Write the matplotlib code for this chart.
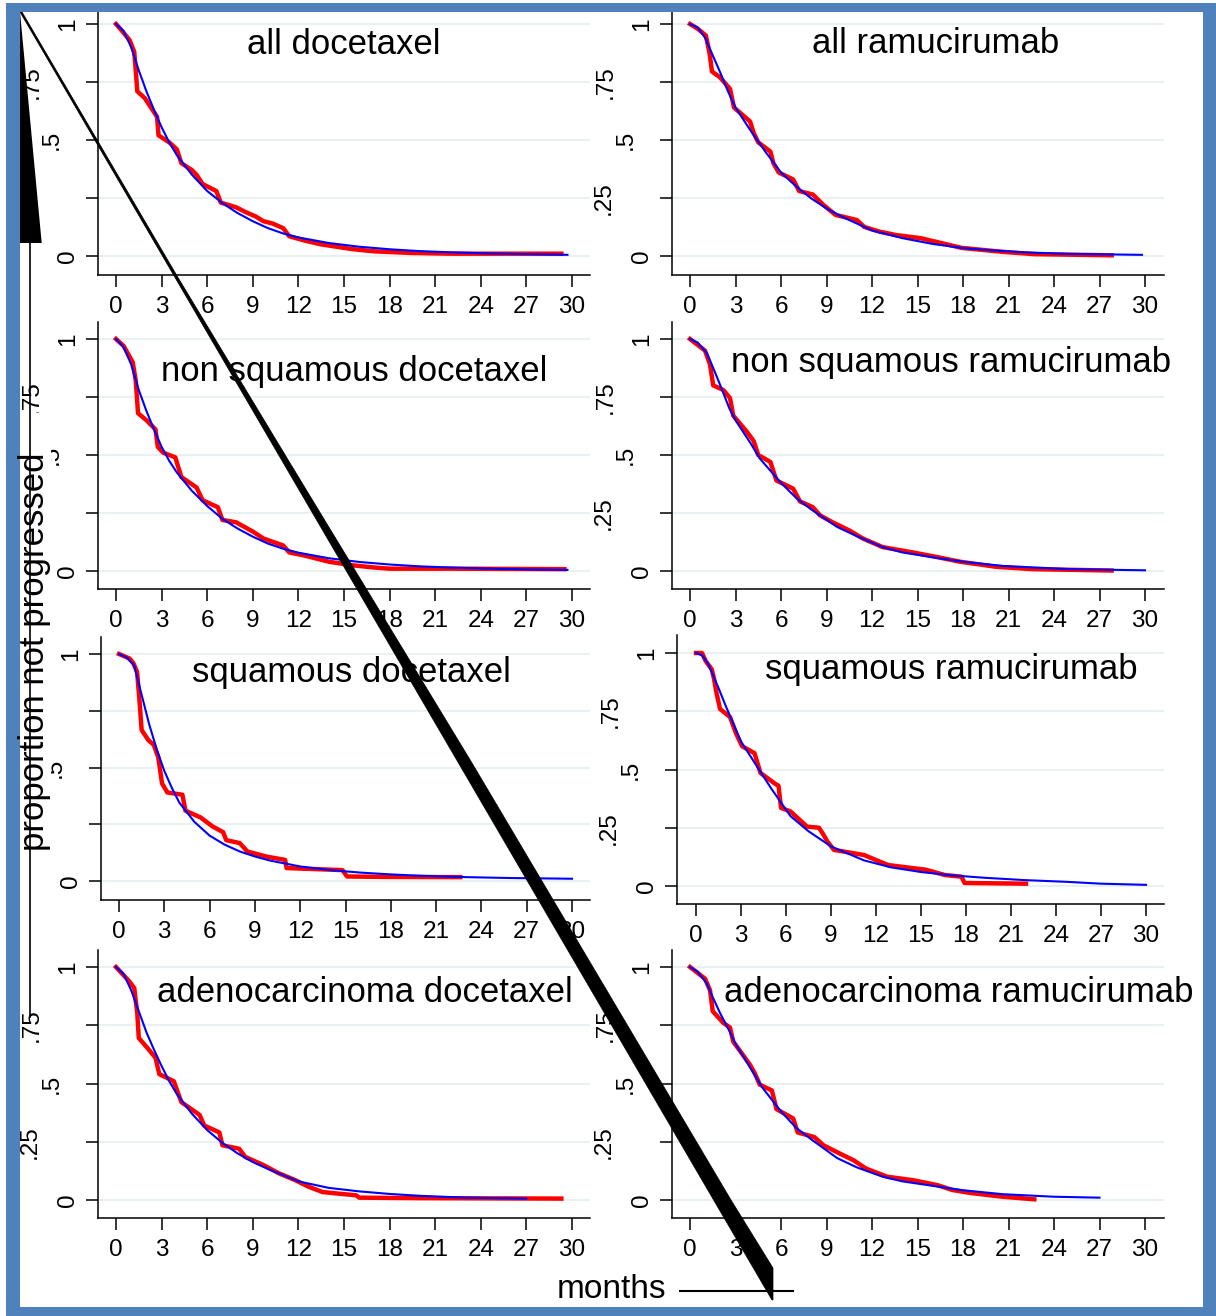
import matplotlib
matplotlib.use('Agg')
import matplotlib.pyplot as plt
from matplotlib.patches import Polygon, Rectangle

plt.rcParams['font.family'] = ['Liberation Sans', 'DejaVu Sans']

W, H = 1216, 1316

month_ticks = list(range(0, 31, 3))
surv_ticks = [0, 0.25, 0.5, 0.75, 1]
surv_labels = ["0", ".25", ".5", ".75", "1"]

titles = ["all docetaxel", "all ramucirumab",
          "non squamous docetaxel", "non squamous ramucirumab",
          "squamous docetaxel", "squamous ramucirumab",
          "adenocarcinoma docetaxel", "adenocarcinoma ramucirumab"]

# Kaplan-Meier (red)
km_t_all_doc = [0, 0.4, 0.9, 1.2, 1.3, 1.4, 1.9, 2.4, 2.7, 2.8, 3.5, 4.0, 4.3, 5.0, 5.3, 5.7, 6.6, 6.9,
                7.9, 8.5, 9.2, 9.7, 10.3, 11.0, 11.4, 12.5, 13.5, 15.5, 17.0, 19.5, 22.0, 29.3]
km_s_all_doc = [1, 0.97, 0.93, 0.88, 0.80, 0.71, 0.68, 0.63, 0.60, 0.52, 0.49, 0.46, 0.40, 0.37, 0.35, 0.31,
                0.28, 0.23, 0.21, 0.19, 0.17, 0.15, 0.14, 0.12, 0.085, 0.065, 0.05, 0.03, 0.02, 0.013, 0.01, 0.01]
km_t_all_ram = [0, 0.5, 1.05, 1.3, 1.45, 1.98, 2.64, 2.9, 3.96, 4.2, 4.5, 5.3, 5.5, 5.85, 6.8, 7.2, 8.1, 8.8,
                9.6, 11.0, 11.5, 12.5, 13.6, 15.2, 16.3, 17.9, 20.6, 22.7, 27.8]
km_s_all_ram = [1, 0.98, 0.95, 0.87, 0.795, 0.77, 0.72, 0.64, 0.58, 0.53, 0.49, 0.45, 0.40, 0.36, 0.33, 0.28,
                0.265, 0.22, 0.177, 0.155, 0.125, 0.105, 0.09, 0.077, 0.06, 0.035, 0.018, 0.008, 0.003]
km_t_nsq_doc = [0, 0.5, 1.1, 1.3, 1.45, 2.0, 2.6, 2.75, 3.1, 3.9, 4.3, 5.3, 5.7, 6.7, 7.0, 7.9, 9.0, 9.7,
                11.0, 11.4, 12.5, 14.0, 15.5, 17.0, 18.0, 22.0, 29.5]
km_s_nsq_doc = [1, 0.97, 0.9, 0.82, 0.68, 0.65, 0.61, 0.535, 0.51, 0.49, 0.405, 0.36, 0.305, 0.275, 0.22, 0.21,
                0.17, 0.14, 0.11, 0.08, 0.065, 0.04, 0.025, 0.015, 0.01, 0.01, 0.008]
km_t_nsq_ram = [0, 0.99, 1.32, 1.53, 2.2, 2.64, 2.85, 3.75, 4.2, 4.5, 5.3, 5.7, 6.8, 7.25, 8.1, 8.57, 9.4,
                10.5, 11.4, 12.7, 14.7, 16.3, 17.8, 20.2, 22.6, 27.8]
km_s_nsq_ram = [1, 0.95, 0.89, 0.8, 0.78, 0.745, 0.67, 0.6, 0.56, 0.5, 0.47, 0.39, 0.355, 0.3, 0.275, 0.24,
                0.21, 0.175, 0.14, 0.103, 0.08, 0.06, 0.04, 0.018, 0.008, 0.002]
km_t_sq_doc = [0, 0.7, 0.95, 1.2, 1.35, 1.5, 1.95, 2.3, 2.6, 2.85, 3.2, 4.2, 4.4, 5.4, 6.2, 6.9, 7.1, 8.0,
               8.5, 9.8, 11.0, 11.1, 14.8, 15.1, 17.5, 22.6]
km_s_sq_doc = [1, 0.98, 0.96, 0.92, 0.80, 0.665, 0.62, 0.60, 0.545, 0.43, 0.39, 0.38, 0.31, 0.28, 0.24, 0.215,
               0.18, 0.167, 0.13, 0.107, 0.093, 0.057, 0.048, 0.02, 0.018, 0.017]
km_t_sq_ram = [0, 0.4, 0.65, 1.05, 1.2, 1.33, 1.6, 2.27, 2.67, 3.07, 3.9, 4.3, 5.25, 5.5, 5.67, 6.3, 7.4,
               8.2, 8.5, 8.77, 9.2, 11.2, 12.8, 15.3, 16.6, 17.7, 17.9, 22.0]
km_s_sq_ram = [1, 1, 0.965, 0.93, 0.89, 0.84, 0.76, 0.725, 0.655, 0.60, 0.57, 0.485, 0.44, 0.43, 0.335, 0.32,
               0.255, 0.25, 0.22, 0.19, 0.155, 0.133, 0.09, 0.07, 0.047, 0.04, 0.013, 0.01]
km_t_ade_doc = [0, 0.85, 1.2, 1.4, 1.5, 2.1, 2.6, 2.85, 3.8, 4.3, 5.5, 5.8, 6.8, 7.0, 8.1, 8.5, 9.7, 10.7,
                11.8, 12.7, 13.6, 15.8, 16.0, 20.0, 29.3]
km_s_ade_doc = [1, 0.94, 0.91, 0.8, 0.695, 0.65, 0.61, 0.54, 0.51, 0.42, 0.365, 0.32, 0.29, 0.235, 0.22, 0.185,
                0.15, 0.115, 0.085, 0.056, 0.034, 0.02, 0.01, 0.008, 0.006]
km_t_ade_ram = [0, 0.99, 1.32, 1.5, 2.2, 2.64, 2.85, 3.96, 4.3, 4.6, 5.4, 5.7, 6.8, 7.1, 8.2, 8.8, 9.7, 10.8,
                11.6, 13.0, 14.7, 16.3, 17.3, 18.5, 20.6, 22.7]
km_s_ade_ram = [1, 0.95, 0.9, 0.81, 0.76, 0.74, 0.68, 0.58, 0.54, 0.495, 0.47, 0.39, 0.35, 0.29, 0.27, 0.235,
                0.205, 0.17, 0.135, 0.1, 0.085, 0.064, 0.043, 0.03, 0.014, 0.003]

# fitted curves (blue)
fit_t_all_doc = [0, 0.5, 1, 1.5, 2, 2.5, 3, 3.5, 4, 5, 6, 7, 8, 9, 10, 11, 12, 14, 16, 18, 20, 22, 24, 27, 29.7]
fit_s_all_doc = [1, 0.97, 0.9, 0.8, 0.71, 0.63, 0.555, 0.49, 0.435, 0.35, 0.28, 0.228, 0.185, 0.15, 0.12,
                 0.097, 0.08, 0.056, 0.04, 0.029, 0.021, 0.016, 0.012, 0.008, 0.005]
fit_t_all_ram = [0, 0.5, 1, 1.5, 2, 2.5, 3, 4, 5, 6, 7, 8, 9, 10, 12, 14, 16, 18, 20, 22, 25, 29.8]
fit_s_all_ram = [1, 0.985, 0.94, 0.865, 0.79, 0.71, 0.64, 0.54, 0.447, 0.36, 0.3, 0.248, 0.205, 0.17, 0.11,
                 0.077, 0.052, 0.034, 0.024, 0.016, 0.009, 0.005]
fit_t_nsq_doc = [0, 0.5, 1, 1.5, 2, 2.5, 3, 3.5, 4, 5, 6, 7, 8, 9, 10, 11, 12, 14, 16, 18, 20, 22, 24, 27, 29.7]
fit_s_nsq_doc = [1, 0.965, 0.89, 0.78, 0.69, 0.61, 0.535, 0.475, 0.425, 0.345, 0.28, 0.225, 0.183, 0.148,
                 0.118, 0.096, 0.079, 0.055, 0.039, 0.028, 0.02, 0.015, 0.011, 0.007, 0.005]
fit_t_nsq_ram = [0, 0.5, 1.1, 1.5, 2, 2.6, 3, 4, 4.6, 5, 6, 7, 8, 9.7, 11, 12.7, 14, 16.3, 18, 20.6, 25, 30]
fit_s_nsq_ram = [1, 0.985, 0.94, 0.88, 0.8, 0.70, 0.65, 0.55, 0.485, 0.455, 0.38, 0.315, 0.265, 0.19, 0.15,
                 0.103, 0.08, 0.056, 0.04, 0.022, 0.008, 0.003]
fit_t_sq_doc = [0, 0.5, 1, 1.5, 2, 2.5, 3, 3.5, 4, 5, 6, 7, 8, 9, 10, 12, 14, 16, 18, 20, 23, 26, 30]
fit_s_sq_doc = [1, 0.985, 0.95, 0.82, 0.69, 0.58, 0.485, 0.41, 0.345, 0.26, 0.2, 0.16, 0.13, 0.108, 0.09,
                0.064, 0.048, 0.037, 0.029, 0.023, 0.017, 0.013, 0.01]
fit_t_sq_ram = [0, 0.4, 0.8, 1.5, 2, 3, 4.2, 5, 6.3, 7.5, 9, 11.2, 13, 15, 17, 19.3, 22, 24.7, 27, 30]
fit_s_sq_ram = [1, 0.99, 0.955, 0.85, 0.77, 0.62, 0.50, 0.42, 0.30, 0.235, 0.17, 0.11, 0.08, 0.06, 0.046,
                0.035, 0.025, 0.018, 0.01, 0.005]
fit_t_ade_doc = [0, 0.5, 1, 1.5, 2, 2.5, 3, 3.5, 4, 5, 6, 7, 8, 9, 10, 12, 14, 16, 18, 20, 23, 27]
fit_s_ade_doc = [1, 0.97, 0.9, 0.81, 0.72, 0.645, 0.575, 0.51, 0.455, 0.37, 0.3, 0.245, 0.2, 0.163, 0.133,
                 0.08, 0.052, 0.037, 0.026, 0.018, 0.01, 0.006]
fit_t_ade_ram = [0, 0.5, 1.1, 1.5, 2, 2.64, 3, 4, 4.8, 6, 7, 8, 9.7, 11, 12.7, 14, 16.3, 18, 20.6, 24, 27]
fit_s_ade_ram = [1, 0.98, 0.93, 0.87, 0.8, 0.72, 0.67, 0.565, 0.48, 0.38, 0.31, 0.26, 0.18, 0.14, 0.1, 0.08,
                 0.058, 0.042, 0.025, 0.014, 0.01]

series = [
    (km_t_all_doc, km_s_all_doc, fit_t_all_doc, fit_s_all_doc),
    (km_t_all_ram, km_s_all_ram, fit_t_all_ram, fit_s_all_ram),
    (km_t_nsq_doc, km_s_nsq_doc, fit_t_nsq_doc, fit_s_nsq_doc),
    (km_t_nsq_ram, km_s_nsq_ram, fit_t_nsq_ram, fit_s_nsq_ram),
    (km_t_sq_doc, km_s_sq_doc, fit_t_sq_doc, fit_s_sq_doc),
    (km_t_sq_ram, km_s_sq_ram, fit_t_sq_ram, fit_s_sq_ram),
    (km_t_ade_doc, km_s_ade_doc, fit_t_ade_doc, fit_s_ade_doc),
    (km_t_ade_ram, km_s_ade_ram, fit_t_ade_ram, fit_s_ade_ram),
]

# pixel geometry: x of month 0, x of month 30, y of 1, y of 0, spine left, spine bottom, top, right
geom = [
    (116, 572, 24, 256, 98, 275, 12, 590),
    (690, 1145, 24, 256, 672, 275, 12, 1164),
    (116, 572, 339, 571, 98, 589, 322, 590),
    (690, 1145, 339, 571, 672, 589, 322, 1164),
    (119, 572, 654, 881, 101, 900, 637, 590),
    (696, 1146, 653, 886, 677, 904, 635, 1164),
    (116, 572, 967, 1200, 98, 1218, 950, 590),
    (690, 1145, 967, 1200, 672, 1218, 950, 1164),
]
title_pos = [(15.0, 0.91), (16.2, 0.914), (15.7, 0.862), (17.2, 0.897),
             (15.4, 0.92), (17.0, 0.93), (16.4, 0.89), (17.7, 0.89)]
# odd stagger of the y labels (pixels left of the axis line)
label_off = {"1": -30, ".75": -66, ".5": -46, ".25": -68, "0": -30}
# labels the original render lost under the axis title / corner mark
hidden = {(0, ".25"), (2, ".25"), (4, ".75"), (4, ".25")}

fig = plt.figure(figsize=(W / 100, H / 100), dpi=100)
fig.patch.set_facecolor('white')

for i, (g, (kt, ks, ft, fs), title, tp) in enumerate(zip(geom, series, titles, title_pos)):
    x0, x30, y1, y0, left, bottom, top, right = g
    ax = fig.add_axes([left / W, 1 - bottom / H, (right - left) / W, (bottom - top) / H])
    kx = (x30 - x0) / 30
    ky = y0 - y1
    ax.set_xlim((left - x0) / kx, (right - x0) / kx)
    ax.set_ylim((y0 - bottom) / ky, (y0 - top) / ky)
    ax.patch.set_alpha(0)
    for s in ['top', 'right']:
        ax.spines[s].set_visible(False)
    for s in ['left', 'bottom']:
        ax.spines[s].set_linewidth(1.1)
    ax.set_yticks(surv_ticks)
    ax.set_yticklabels([])
    ax.set_xticks(month_ticks)
    ax.set_xticklabels([str(m) for m in month_ticks])
    ax.tick_params(axis='both', direction='out', length=8.3, width=1.1, labelsize=17.5, pad=6.5)
    ax.grid(axis='y', color='#e8f0f2', lw=1.5)
    ax.set_axisbelow(True)
    ax.plot(kt, ks, color='#ff0000', lw=3.2, solid_joinstyle='round')
    ax.plot(ft, fs, color='#0000ff', lw=1.5)
    ax.text(tp[0], tp[1], title, ha='center', va='center', fontsize=25)
    for v, lab in zip(surv_ticks, surv_labels):
        if (i, lab) in hidden:
            continue
        ax.annotate(lab, xy=(0, v), xycoords=('axes fraction', 'data'),
                    xytext=(label_off[lab], 0), textcoords='offset pixels',
                    rotation=90, ha='center', va='center', fontsize=17.5,
                    annotation_clip=False)

# overlay in pixel coordinates for the stray marks of the original render
ov = fig.add_axes([0, 0, 1, 1], zorder=10)
ov.set_xlim(0, W)
ov.set_ylim(H, 0)
ov.axis('off')
ov.patch.set_alpha(0)

ov.plot([29.5, 29.5], [243, 1017], color='black', lw=1.2)
ov.add_patch(Rectangle((20, 413), 31, 476, fc='white', ec='none'))
ov.text(35, 652, "proportion not progressed", rotation=90, ha='center', va='center', fontsize=25)
ov.add_patch(Polygon([(20, 12), (41.7, 243), (20, 243)], closed=True, fc='black', ec='none'))

wedge = [(20, 12), (22, 12), (177.7, 277), (290, 463), (472, 763), (731, 1200), (773, 1268),
         (773, 1300), (772, 1300)]
ov.add_patch(Polygon(wedge, closed=True, fc='black', ec='black', lw=0.5))

ov.text(612, 1298, "months", ha='center', va='baseline', fontsize=24)
ov.plot([680, 793], [1291, 1291], color='black', lw=1.5)

frame = '#4f81bd'
ov.add_patch(Rectangle((6, 3), W - 6, 9, fc=frame, ec='none'))
ov.add_patch(Rectangle((6, 1307), W - 6, 9, fc=frame, ec='none'))
ov.add_patch(Rectangle((6, 3), 14, H - 3, fc=frame, ec='none'))
ov.add_patch(Rectangle((1203, 3), 13, H - 3, fc=frame, ec='none'))

fig.savefig('out.png', dpi=100)
